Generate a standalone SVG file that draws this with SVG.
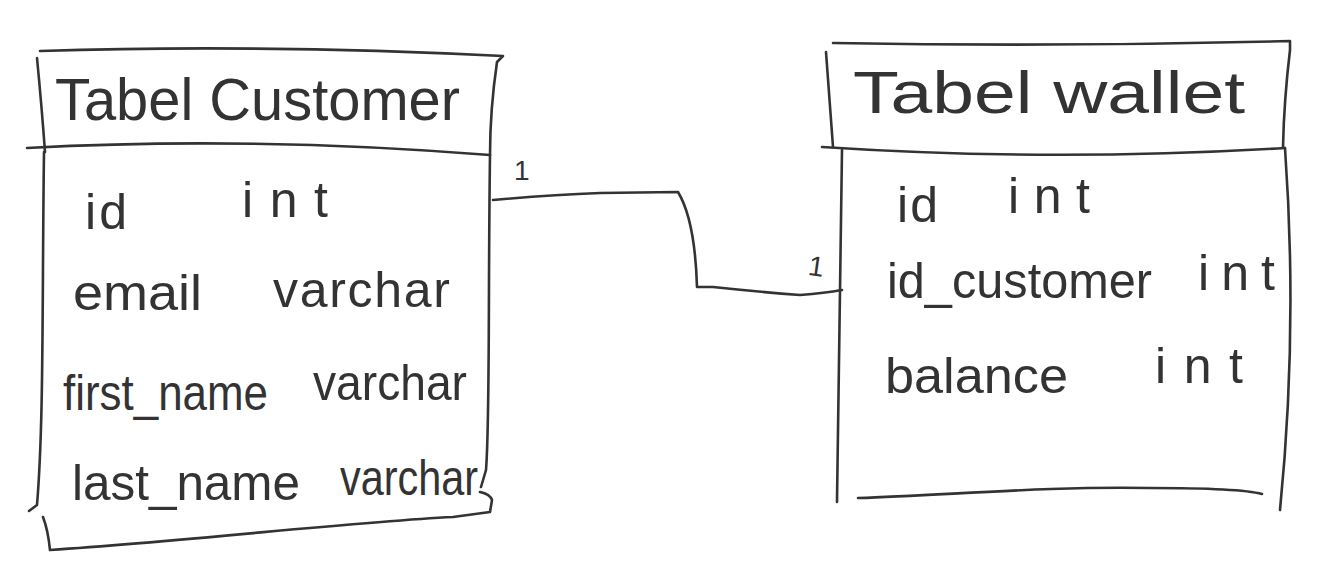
<svg xmlns="http://www.w3.org/2000/svg" width="1320" height="563" viewBox="0 0 1320 563">
<style>
.ln{fill:none;stroke:#333;stroke-width:2.6;stroke-linecap:round;stroke-linejoin:round}
.t{font-family:"Liberation Sans",Arial,sans-serif;fill:#333}
.title{font-size:60px}
.row{font-size:50px}
.card{font-family:"Liberation Sans",Arial,sans-serif;fill:#333;font-size:28px}
</style>
<rect width="1320" height="563" fill="#fff"/>
<g id="customer">
<path class="ln" d="M40,51 Q260,44 503,56 L497,62 Q490,110 490,155"/>
<path class="ln" d="M37,58 Q42,110 45,152"/>
<path class="ln" d="M27,148 Q250,136 490,155"/>
<path class="ln" d="M44,152 C42,300 44,420 37,505 L29,511"/>
<path class="ln" d="M490,155 C488,300 490,420 486,470 L481,487"/>
<path class="ln" d="M480,492 Q490,494 492,500 L490,512 L453,517 C350,522 200,540 50,550 Q48,530 43,517"/>
<text class="t title" x="55" y="120" textLength="405" lengthAdjust="spacingAndGlyphs">Tabel Customer</text>
<text class="t row" x="85" y="229" textLength="42" lengthAdjust="spacing">id</text>
<text class="t row" x="242" y="217" textLength="86" lengthAdjust="spacing">int</text>
<text class="t row" x="73" y="310" textLength="129" lengthAdjust="spacingAndGlyphs">email</text>
<text class="t row" x="273" y="307" textLength="177" lengthAdjust="spacing">varchar</text>
<text class="t row" x="63" y="410" textLength="205" lengthAdjust="spacingAndGlyphs">first_name</text>
<text class="t row" x="313" y="400" textLength="154" lengthAdjust="spacingAndGlyphs">varchar</text>
<text class="t row" x="72" y="500" textLength="228" lengthAdjust="spacingAndGlyphs">last_name</text>
<text class="t row" x="340" y="495" textLength="138" lengthAdjust="spacingAndGlyphs">varchar</text>
</g>
<g id="wallet">
<path class="ln" d="M833,43 Q1060,47 1290,41 L1290,50 Q1284,100 1283,147"/>
<path class="ln" d="M826,52 L833,147"/>
<path class="ln" d="M822,147 Q1050,162 1285,148"/>
<path class="ln" d="M842,150 Q840,330 837,502"/>
<path class="ln" d="M1285,148 Q1298,330 1280,510"/>
<path class="ln" d="M858,498 C950,495 1050,486 1150,488 Q1240,488 1262,494"/>
<text class="t title" x="853" y="113" textLength="392" lengthAdjust="spacingAndGlyphs">Tabel wallet</text>
<text class="t row" x="897" y="222" textLength="41" lengthAdjust="spacing">id</text>
<text class="t row" x="1008" y="213" textLength="82" lengthAdjust="spacing">int</text>
<text class="t row" x="887" y="298" textLength="265" lengthAdjust="spacingAndGlyphs">id_customer</text>
<text class="t row" x="1198" y="290" textLength="77" lengthAdjust="spacing">int</text>
<text class="t row" x="885" y="393" textLength="183" lengthAdjust="spacingAndGlyphs">balance</text>
<text class="t row" x="1155" y="383" textLength="88" lengthAdjust="spacing">int</text>
</g>
<g id="connectors">
<path class="ln" d="M493,200 Q550,195 600,193 L678,192 Q695,220 697,287 L713,287 Q760,292 800,295 Q825,293 842,290"/>
<text class="card" x="514" y="180">1</text>
<text class="card" x="809" y="276" transform="rotate(8 817 262)">1</text>
</g>
</svg>
